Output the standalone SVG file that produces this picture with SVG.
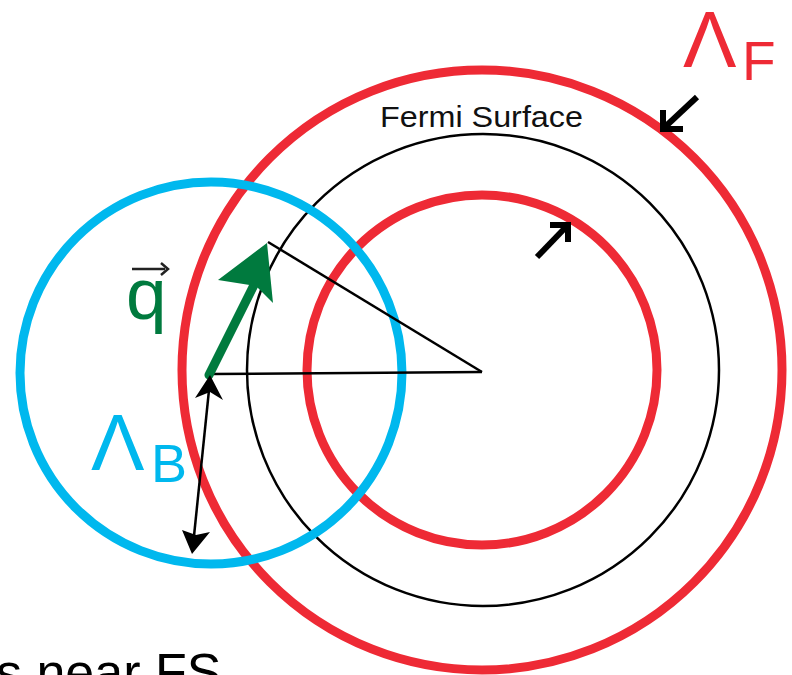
<svg xmlns="http://www.w3.org/2000/svg" width="792" height="675" viewBox="0 0 792 675">
  <defs>
    <style>
      .red { fill: none; stroke: #ee2a35; stroke-width: 9; }
      .blue { fill: none; stroke: #00b8ee; stroke-width: 9; }
      .thin { fill: none; stroke: #000; stroke-width: 2.5; }
      .thick { fill: none; stroke: #000; stroke-width: 6; }
      .lbl { font-family: "Liberation Sans", Arial, sans-serif; }
    </style>
  </defs>
  <rect width="792" height="675" fill="#fff"/>

  <g id="outer-cutoff">
    <circle class="red" cx="482" cy="370" r="300"/>
  </g>
  <g id="inner-cutoff">
    <circle class="red" cx="482" cy="370" r="175"/>
  </g>
  <g id="fermi-surface">
    <circle class="thin" cx="483" cy="370" r="236"/>
    <text class="lbl" x="380" y="127" font-size="30" textLength="203" lengthAdjust="spacingAndGlyphs" fill="#111">Fermi Surface</text>
  </g>
  <g id="boson-circle">
    <circle class="blue" cx="211" cy="373" r="191"/>
  </g>

  <g id="connectors">
    <line class="thin" x1="212" y1="374" x2="482" y2="372"/>
    <line class="thin" x1="482" y1="372" x2="268" y2="242"/>
    <!-- green q vector -->
    <line x1="209" y1="375" x2="256" y2="281" stroke="#007a3e" stroke-width="9" stroke-linecap="round"/>
    <polygon points="267,243 218,280 256,286 273,303" fill="#007a3e"/>
    <!-- double arrow Lambda_B -->
    <line class="thin" x1="209" y1="390" x2="194" y2="536" stroke-width="2"/>
    <polygon points="210,375 195,398 210,392 223,400" fill="#000"/>
    <polygon points="192,554 182,530 196,535 210,532" fill="#000"/>
    <!-- Lambda_F arrows -->
    <line class="thick" x1="697" y1="97" x2="666" y2="126"/>
    <polyline class="thick" points="663,110 663,129 683,129"/>
    <line class="thick" x1="537" y1="257" x2="565" y2="228"/>
    <polyline class="thick" points="550,225 568,225 568,242"/>
  </g>

  <g id="q-label">
    <text class="lbl" x="126" y="319" font-size="73" fill="#007a3e">q</text>
    <line x1="132" y1="269" x2="165" y2="269" stroke="#222" stroke-width="2.5"/>
    <polyline points="161,263 168,269 161,275" fill="none" stroke="#222" stroke-width="2.5"/>
  </g>
  <g id="lambda-b-label" fill="#00b8ee">
    <text class="lbl" x="91" y="470" font-size="80">Λ</text>
    <text class="lbl" x="151" y="482" font-size="54">B</text>
  </g>
  <g id="lambda-f-label" fill="#ee2a35">
    <text class="lbl" x="683" y="67" font-size="80">Λ</text>
    <text class="lbl" x="742" y="80" font-size="55">F</text>
  </g>
  <g id="caption">
    <text class="lbl" x="-4" y="690" font-size="52" fill="#000">s near FS</text>
  </g>
</svg>
